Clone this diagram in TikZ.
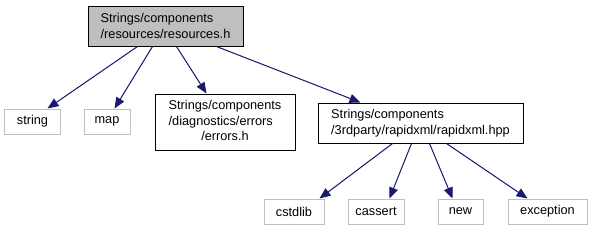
\documentclass[tikz,border=0pt]{standalone}
\usepackage{fontspec}
\setmainfont{Liberation Sans}
\usetikzlibrary{arrows.meta,calc}
\begin{document}
\begin{tikzpicture}[x=1bp,y=-1bp,
  every node/.style={inner sep=0pt,font=\fontsize{12.8}{15.8}\selectfont},
  filebox/.style={draw=black,line width=1bp,fill=white},
  sysbox/.style={draw=gray!50!white,line width=1bp,fill=white,minimum height=25bp},
  rootbox/.style={draw=black,line width=1bp,fill=black!25},
  edge/.style={draw={rgb,255:red,25;green,25;blue,112},line width=1bp,
    -{Triangle[length=11bp,width=9bp]},fill={rgb,255:red,25;green,25;blue,112}}]
\useasboundingbox (0,0) rectangle (592,231);
\node[rootbox,minimum width=155bp,minimum height=40bp,align=left] (root) at (165.5,26) {Strings/components\\/resources/resources.h};
\node[sysbox,minimum width=55bp] (string) at (32.5,121.5) {string};
\node[sysbox,minimum width=46bp] (map) at (107,121.5) {map};
\node[filebox,minimum width=140bp,minimum height=56bp] (errors) at (225,122)
  {\begin{tabular}{@{}l@{}}Strings/components\\/diagnostics/errors\\\multicolumn{1}{@{}c@{}}{/errors.h}\end{tabular}};
\node[filebox,minimum width=205bp,minimum height=40bp,align=left] (rapid) at (420.5,123) {Strings/components\\/3rdparty/rapidxml/rapidxml.hpp};
\node[sysbox,minimum width=60bp] (cstdlib) at (294,211.5) {cstdlib};
\node[sysbox,minimum width=56bp] (cassert) at (376,211.5) {cassert};
\node[sysbox,minimum width=45bp] (new) at (460.5,211.5) {new};
\node[sysbox,minimum width=79bp] (exception) at (547.5,211.5) {exception};
\path[edge] ($(root.south west)+(50,0)$) -- ($(string.north west)+(43,0)$);
\path[edge] ($(root.south west)+(65,0)$) -- ($(map.north west)+(31,0)$);
\path[edge] ($(root.south west)+(89,0)$) -- ($(errors.north west)+(52,0)$);
\path[edge] ($(root.south west)+(129,0)$) -- ($(rapid.north west)+(43,0)$);
\path[edge] ($(rapid.south west)+(75,0)$) -- ($(cstdlib.north west)+(56,0)$);
\path[edge] ($(rapid.south west)+(94,0)$) -- ($(cassert.north west)+(42,0)$);
\path[edge] ($(rapid.south west)+(112,0)$) -- ($(new.north west)+(15,0)$);
\path[edge] ($(rapid.south west)+(129,0)$) -- ($(exception.north west)+(20,0)$);
\end{tikzpicture}
\end{document}
